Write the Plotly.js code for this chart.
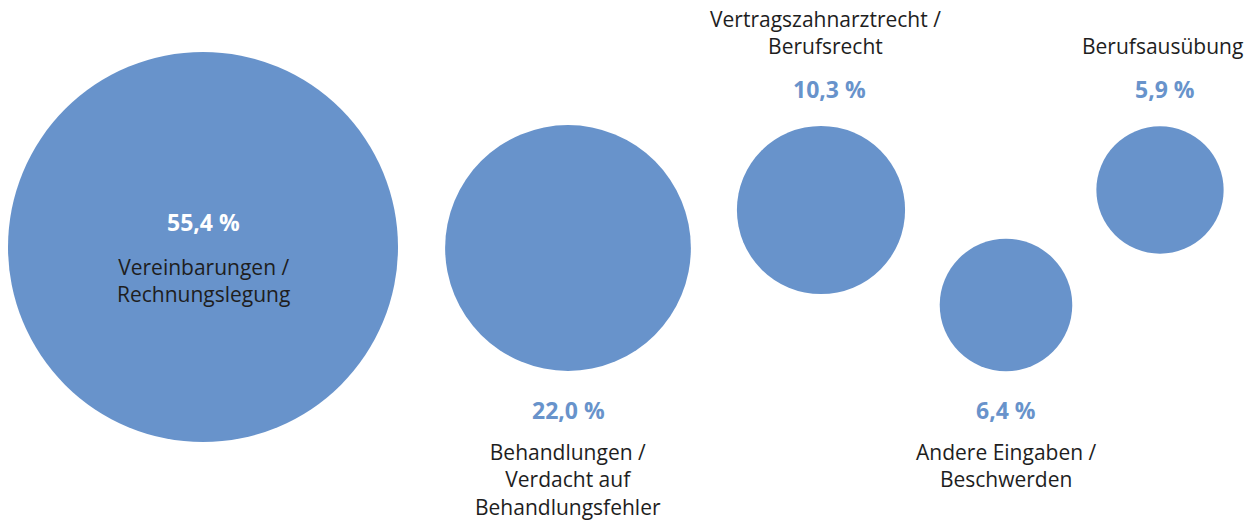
<!DOCTYPE html>
<html>
<head>
<meta charset="utf-8">
<script src="https://cdn.plot.ly/plotly-3.0.1.min.js"></script>
<style>html,body{margin:0;padding:0;background:#fff;}#chart{width:1260px;height:520px;}</style>
</head>
<body>
<div id="chart"></div>
<script>
// ---- data ----
var categories = [
  "Vereinbarungen /<br>Rechnungslegung",
  "Behandlungen /<br>Verdacht auf<br>Behandlungsfehler",
  "Vertragszahnarztrecht /<br>Berufsrecht",
  "Andere Eingaben /<br>Beschwerden",
  "Berufsausübung"
];
var shares = [55.4, 22.0, 10.3, 6.4, 5.9];

// ---- layout (positions in a 1260x520 canvas) ----
var centerX = [203, 568, 821, 1006, 1160];
var centerY = [247, 248, 210, 305, 190];
var labelPlacement = ["inside", "below", "above", "below", "above"];
var labelShift = [0, 0, 8, 0, 5];
var maxRadius = 195;

var bubbleColor = "#6893CB";
var textDark = "#1e1e1e";
var fontFamily = "'Open Sans', 'Noto Sans', sans-serif";
var nameSize = 21;
var pctSize = 23;

var maxShare = Math.max.apply(null, shares);
// Plotly area mode: radius = sqrt(v / 2 / sizeref)
var sizeref = (maxShare / 2) / (maxRadius * maxRadius);

function radiusOf(v) { return Math.sqrt(v / 2 / sizeref); }
function fmt(v) { return v.toFixed(1).replace('.', ',') + ' %'; }

var trace = {
  type: 'scatter',
  mode: 'markers',
  x: centerX,
  y: centerY,
  marker: {
    size: shares,
    sizemode: 'area',
    sizeref: sizeref,
    color: bubbleColor,
    line: {width: 0},
    opacity: 1
  },
  hoverinfo: 'none'
};

var annotations = [];
for (var i = 0; i < shares.length; i++) {
  var r = radiusOf(shares[i]);
  var pct;
  if (labelPlacement[i] === 'inside') {
    annotations.push({x: centerX[i], y: centerY[i] - 25, text: '<b>' + fmt(shares[i]) + '</b>',
      font: {size: pctSize, color: '#ffffff', family: fontFamily}, showarrow: false, xanchor: 'center', yanchor: 'middle'});
    annotations.push({x: centerX[i], y: centerY[i] + 4, text: categories[i],
      font: {size: nameSize, color: textDark, family: fontFamily}, showarrow: false, xanchor: 'center', yanchor: 'top'});
  } else if (labelPlacement[i] === 'below') {
    pct = centerY[i] + r + 39;
    annotations.push({x: centerX[i], y: pct, xshift: labelShift[i], text: '<b>' + fmt(shares[i]) + '</b>',
      font: {size: pctSize, color: bubbleColor, family: fontFamily}, showarrow: false, xanchor: 'center', yanchor: 'middle'});
    annotations.push({x: centerX[i], y: pct + 26, text: categories[i],
      font: {size: nameSize, color: textDark, family: fontFamily}, showarrow: false, xanchor: 'center', yanchor: 'top'});
  } else {
    pct = centerY[i] - r - 37;
    annotations.push({x: centerX[i], y: pct, xshift: labelShift[i], text: '<b>' + fmt(shares[i]) + '</b>',
      font: {size: pctSize, color: bubbleColor, family: fontFamily}, showarrow: false, xanchor: 'center', yanchor: 'middle'});
    annotations.push({x: centerX[i], y: pct - 27, xshift: labelShift[i] / 2, text: categories[i],
      font: {size: nameSize, color: textDark, family: fontFamily}, showarrow: false, xanchor: 'center', yanchor: 'bottom'});
  }
}

var layout = {
  width: 1260,
  height: 520,
  margin: {l: 0, r: 0, t: 0, b: 0},
  paper_bgcolor: '#ffffff',
  plot_bgcolor: '#ffffff',
  showlegend: false,
  xaxis: {range: [0, 1260], visible: false, fixedrange: true},
  yaxis: {range: [520, 0], visible: false, fixedrange: true},
  annotations: annotations
};

Plotly.newPlot('chart', [trace], layout, {displayModeBar: false, staticPlot: true});
</script>
</body>
</html>
